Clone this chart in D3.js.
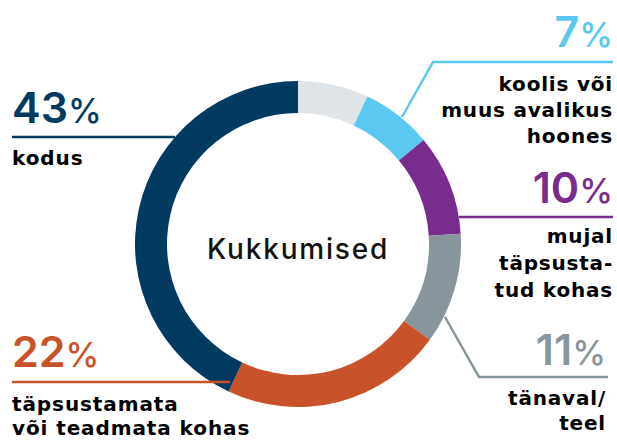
<!DOCTYPE html>
<html>
<head>
<meta charset="utf-8">
<script src="https://cdn.jsdelivr.net/npm/d3@7"></script>
<style>
  body { margin: 0; background: #fff; }
  text { font-family: Inter, "Open Sans", sans-serif; }
  .lbl { font-family: "DejaVu Sans", sans-serif; }
</style>
</head>
<body>
<div id="chart"></div>
<script>
const Width = 617;
const Height = 440;

// andmed
const categories = ["muu", "koolis või muus avalikus hoones", "mujal täpsustatud kohas", "tänaval/teel", "täpsustamata või teadmata kohas", "kodus"];
const values = [7, 7, 10, 11, 22, 43];
const colors = ["#dfe4e8", "#5bc8f2", "#772c8e", "#87959c", "#c8532a", "#023a60"];
const percentLabels = ["", "7%", "10%", "11%", "22%", "43%"];
const labelLines = [
    [],
    ["koolis või", "muus avalikus", "hoones"],
    ["mujal", "täpsusta-", "tud kohas"],
    ["tänaval/", "teel"],
    ["täpsustamata", "või teadmata kohas"],
    ["kodus"]
];

const cx = 298, cy = 244;
const outerR = 163, innerR = 131;

const svg = d3.select("#chart").append("svg").attr("width", Width).attr("height", Height);

const pie = d3.pie().sort(null).value(d => d);
const arc = d3.arc().innerRadius(innerR).outerRadius(outerR);

const ring = svg.append("g").attr("transform", `translate(${cx},${cy})`);
ring.selectAll("path")
    .data(pie(values))
    .join("path")
    .attr("d", arc)
    .attr("fill", (d, i) => colors[i]);

ring.append("text")
    .attr("x", 0)
    .attr("y", 15)
    .attr("text-anchor", "middle")
    .attr("font-size", 28)
    .attr("font-weight", 500)
    .attr("letter-spacing", 1.8)
    .attr("fill", "#111")
    .text("Kukkumised");

// paigutus: joon, protsent, tekst
const layout = [
    null,
    { line: [[402, 117], [433, 62], [613, 62]], anchor: "end", x: 613, py: 47, ty: 91, lh: 26 },
    { line: [[459, 217], [613, 217]], anchor: "end", x: 613, py: 203, ty: 243, lh: 27 },
    { line: [[445, 317], [479, 377], [608, 377]], anchor: "end", x: 606, py: 365, ty: 405, lh: 25 },
    { line: [[12, 382], [230, 382]], anchor: "start", x: 12, py: 367, ty: 411, lh: 24 },
    { line: [[12, 137], [175, 137]], anchor: "start", x: 12, py: 123, ty: 165, lh: 26 }
];

const lineGen = d3.line();

layout.forEach((l, i) => {
    if (!l) return;
    svg.append("path")
        .attr("d", lineGen(l.line))
        .attr("fill", "none")
        .attr("stroke", colors[i])
        .attr("stroke-width", 2.5);

    const pct = svg.append("text")
        .attr("x", l.x)
        .attr("y", l.py)
        .attr("text-anchor", l.anchor)
        .attr("fill", colors[i])
        .attr("font-size", 43)
        .attr("font-weight", 600);
    pct.append("tspan").text(percentLabels[i].replace("%", ""));
    pct.append("tspan").attr("font-size", 34).attr("font-weight", 500).text("%");

    labelLines[i].forEach((t, j) => {
        svg.append("text")
            .attr("class", "lbl")
            .attr("x", l.x)
            .attr("y", l.ty + j * l.lh)
            .attr("text-anchor", l.anchor)
            .attr("font-size", 20)
            .attr("font-weight", 700)
            .attr("letter-spacing", l.anchor === "end" ? 0.8 : 0.9)
            .attr("fill", "#000")
            .text(t);
    });
});
</script>
</body>
</html>
